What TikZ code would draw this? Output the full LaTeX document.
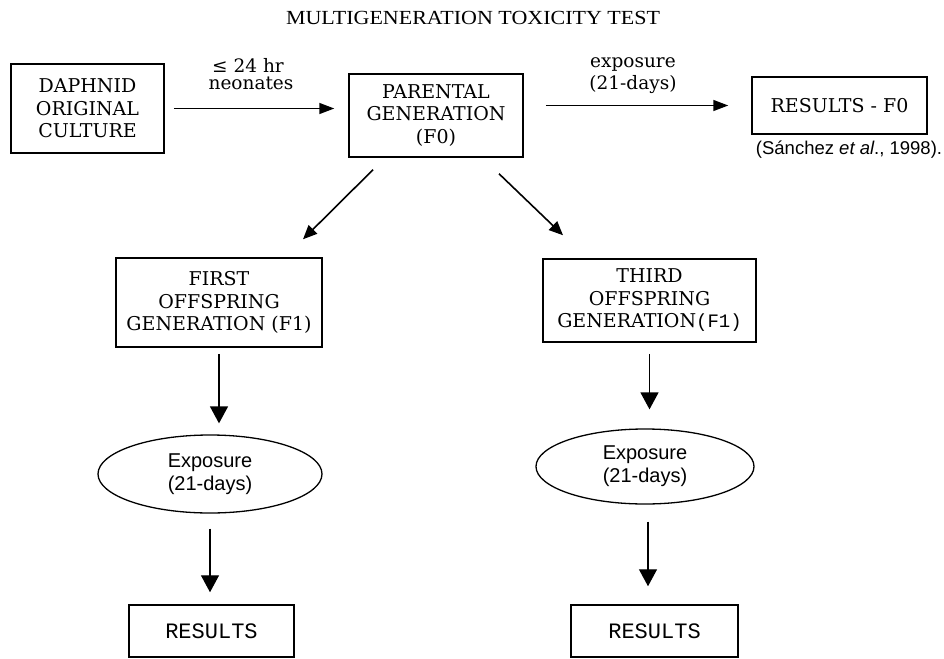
\documentclass[tikz,border=0pt]{standalone}
\usepackage{fontspec}
\setmainfont{DejaVu Serif}
\setsansfont{Liberation Sans}
\setmonofont{Liberation Mono}
\newfontfamily\titlefont[FakeStretch=1.1]{Liberation Serif}
\usetikzlibrary{arrows.meta,shapes.geometric}
\tikzset{
  boxnode/.style={draw, line width=1.5pt, align=center, inner sep=0pt,
    font=\fontsize{19}{22.5}\selectfont},
  ellnode/.style={draw, ellipse, line width=1.3pt, align=center, inner sep=0pt,
    font=\sffamily\fontsize{20}{23}\selectfont},
  lbl/.style={align=center, inner sep=0pt, font=\fontsize{18.5}{20}\selectfont},
  harr/.style={line width=1.5pt, -{Triangle[length=15pt,width=11pt]}},
  darr/.style={line width=1.6pt, -{Triangle[length=14pt,width=12pt]}},
  varr/.style={line width=1.4pt, -{Triangle[length=17pt,width=18pt]}}
}
\begin{document}
\begin{tikzpicture}[x=1pt,y=-1pt]
\useasboundingbox (0,0) rectangle (944,658);
% title
\node[inner sep=0pt, font=\titlefont\fontsize{20}{22}\selectfont] (title) at (473,18) {MULTIGENERATION TOXICITY TEST};
% top row
\node[boxnode, minimum width=153pt, minimum height=89pt] (daph) at (87.5,108.5) {DAPHNID\\ORIGINAL\\CULTURE};
\node[boxnode, minimum width=174pt, minimum height=83pt] (par) at (436,115.5) {PARENTAL\\GENERATION\\(F0)};
\node[boxnode, minimum width=175pt, minimum height=57pt] (res0) at (839.5,105.5) {RESULTS - F0};
\node[inner sep=0pt, font=\sffamily\fontsize{18.5}{20}\selectfont] (cite) at (849,150) {(Sánchez \textit{et al}., 1998).};
% labels
\node[lbl] (l24) at (248,65) {≤ 24 hr};
\node[lbl] (lneo) at (251,83.5) {neonates};
\node[lbl] (lexp) at (633,64.5) {exposure};
\node[lbl] (ldays) at (633,85) {(21-days)};
% second row
\node[boxnode, minimum width=206pt, minimum height=89pt] (first) at (219,302.5) {FIRST\\OFFSPRING\\GENERATION (F1)};
\node[boxnode, minimum width=213pt, minimum height=83pt] (third) at (649.5,300.5) {THIRD\\OFFSPRING\\GENERATION{\ttfamily(F1)}};
% ellipses
\node[ellnode, minimum width=224pt, minimum height=78pt] (ell1) at (210,474) {Exposure\\(21-days)};
\node[ellnode, minimum width=218pt, minimum height=75pt] (ell2) at (645,466.5) {Exposure\\(21-days)};
% results
\node[boxnode, minimum width=165pt, minimum height=52pt, font=\ttfamily\fontsize{22}{24}\selectfont] (resL) at (211.5,631) {RESULTS};
\node[boxnode, minimum width=167pt, minimum height=52pt, font=\ttfamily\fontsize{22}{24}\selectfont] (resR) at (654.5,631) {RESULTS};
% connectors
\draw[harr, shorten <=9pt, shorten >=14pt] (daph.east) -- (daph.east -| par.west);
\draw[harr, shorten <=22pt, shorten >=23pt] (res0.west -| par.east) -- (res0.west);
\draw[darr] ([shift={(-63,12)}]par.south) -- ([shift={(84,-18)}]first.north);
\draw[darr] ([shift={(63,16)}]par.south) -- ([shift={(-86.5,-23)}]third.north);
\draw[varr, shorten <=6pt, shorten >=11pt] (first.south) -- (first.south |- ell1.north);
\draw[varr, shorten <=15pt, shorten >=12pt] (ell1.south) -- (ell1.south |- resL.north);
\draw[varr, shorten <=11pt, shorten >=19pt] (third.south) -- (third.south |- ell2.north);
\draw[varr, shorten <=17pt, shorten >=18pt] ([xshift=3pt]ell2.south) -- ([xshift=3pt]ell2.south |- resR.north);
\end{tikzpicture}
\end{document}
